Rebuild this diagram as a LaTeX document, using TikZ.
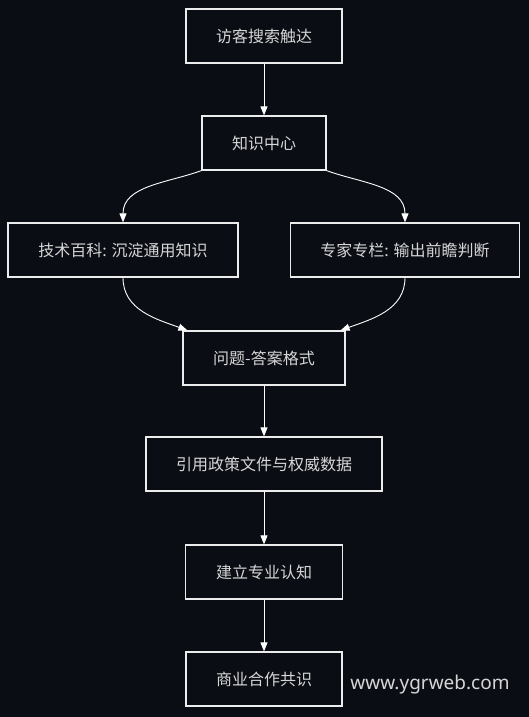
\documentclass[tikz,border=0pt]{standalone}
\usepackage{fontspec}
\setmainfont{Noto Sans CJK SC}
\newfontfamily\wmfont{Noto Sans}
\usetikzlibrary{arrows.meta}
\definecolor{bgdark}{RGB}{11,13,20}
\definecolor{inkwhite}{RGB}{236,236,236}
\definecolor{textgray}{RGB}{214,214,214}

\begin{document}
\begin{tikzpicture}
        [x=1pt, y=1pt,
        box/.style={rectangle, draw=inkwhite, line width=1.2pt, fill=bgdark,
            text=textgray, font=\fontsize{16}{19}\selectfont, minimum height=54pt},
        line/.style={draw=white, line width=0.9pt, -{Triangle[width=7pt,length=9pt]}}]
        \fill[bgdark] (0,0) rectangle (529,717);
        \useasboundingbox (0,0) rectangle (529,717);
        \node[box, minimum width=156pt] (visit) at (264,681) {访客搜索触达};
        \node[box, minimum width=124pt] (hub) at (264,574) {知识中心};
        \node[box, minimum width=230pt] (wiki) at (123,467) {技术百科: 沉淀通用知识};
        \node[box, minimum width=229pt] (expert) at (405,467) {专家专栏: 输出前瞻判断};
        \node[box, minimum width=162pt] (qa) at (264,359) {问题-答案格式};
        \node[box, minimum width=236pt] (cite) at (264,253) {引用政策文件与权威数据};
        \node[box, minimum width=157pt] (trust) at (264,145) {建立专业认知};
        \node[box, minimum width=156pt] (deal) at (264,38) {商业合作共识};
        \node[font=\wmfont\fontsize{19}{22}\selectfont, text=textgray] (mark) at (430,32) {www.ygrweb.com};
        \draw[line] (visit) -- (hub);
        \draw[line] (hub.south west) to[out=200, in=90] (wiki.north);
        \draw[line] (hub.south east) to[out=-20, in=90] (expert.north);
        \draw[line] (wiki.south) to[out=-90, in=160] ([xshift=5pt]qa.north west);
        \draw[line] (expert.south) to[out=-90, in=20] ([xshift=-5pt]qa.north east);
        \draw[line] (qa) -- (cite);
        \draw[line] (cite) -- (trust);
        \draw[line] (trust) -- (deal);
\end{tikzpicture}
\end{document}
